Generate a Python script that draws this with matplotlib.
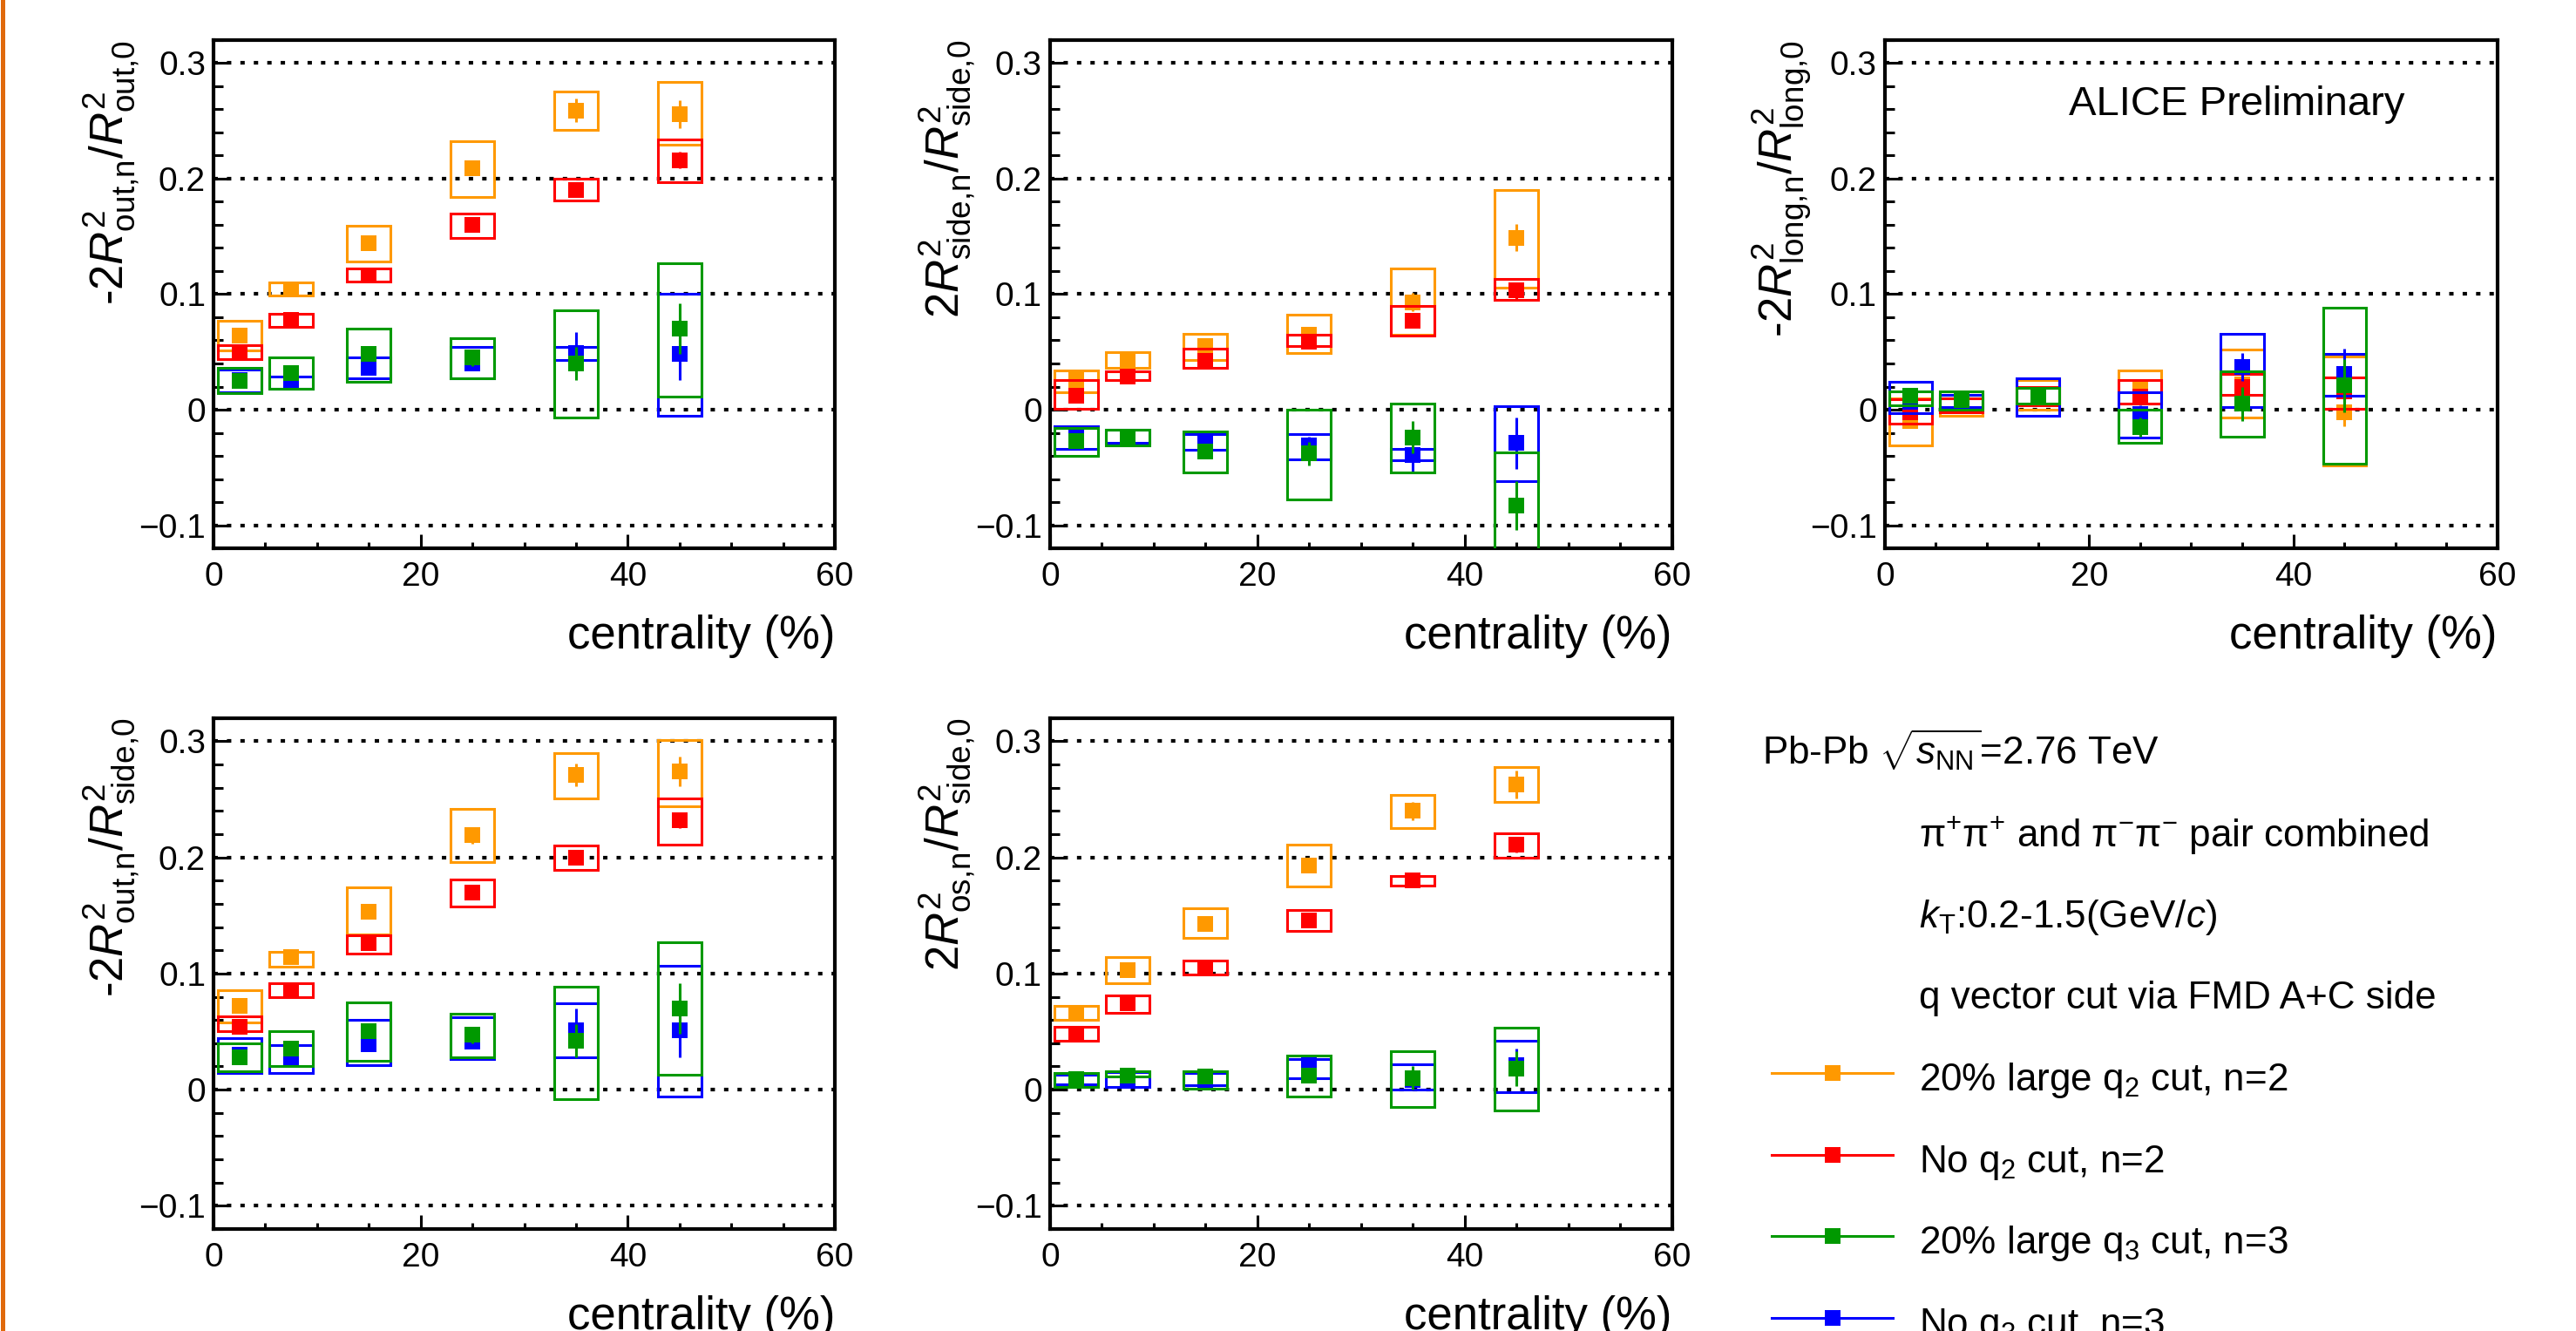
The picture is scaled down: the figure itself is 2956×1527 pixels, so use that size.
import numpy as np
import matplotlib
matplotlib.use("Agg")
import matplotlib.pyplot as plt
from matplotlib.lines import Line2D
from matplotlib.ticker import MultipleLocator, FuncFormatter

plt.rcParams["font.family"] = ["Liberation Sans", "DejaVu Sans"]
plt.rcParams["mathtext.fontset"] = "custom"
plt.rcParams["mathtext.rm"] = "Liberation Sans"
plt.rcParams["mathtext.it"] = "Liberation Sans:italic"
plt.rcParams["mathtext.bf"] = "Liberation Sans:bold"

# centrality bin centres (%)
centrality = [2.5, 7.5, 15, 25, 35, 45]

series_labels = [
    "20% large q$_{2}$ cut, n=2",
    "No q$_{2}$ cut, n=2",
    "20% large q$_{3}$ cut, n=3",
    "No q$_{3}$ cut, n=3",
]
series_colors = ["#ff9900", "#ff0000", "#009900", "#0000ff"]

# rows: q2 cut n=2, no q2 cut n=2, q3 cut n=3, no q3 cut n=3
out_val = [[0.064, 0.104, 0.144, 0.209, 0.259, 0.256],
           [0.049, 0.078, 0.116, 0.160, 0.190, 0.216],
           [0.025, 0.032, 0.048, 0.045, 0.040, 0.070],
           [0.026, 0.024, 0.036, 0.040, 0.049, 0.048]]
out_stat = [[0.005, 0.004, 0.005, 0.006, 0.010, 0.012],
            [0.004, 0.004, 0.005, 0.005, 0.006, 0.007],
            [0.004, 0.005, 0.006, 0.007, 0.014, 0.022],
            [0.004, 0.005, 0.006, 0.006, 0.018, 0.022]]
out_lo = [[0.051, 0.099, 0.128, 0.184, 0.242, 0.229],
          [0.044, 0.072, 0.111, 0.149, 0.181, 0.197],
          [0.014, 0.018, 0.024, 0.027, -0.007, 0.011],
          [0.015, 0.018, 0.027, 0.027, 0.043, -0.005]]
out_hi = [[0.077, 0.110, 0.159, 0.232, 0.275, 0.284],
          [0.056, 0.083, 0.122, 0.170, 0.200, 0.234],
          [0.036, 0.045, 0.070, 0.062, 0.086, 0.127],
          [0.035, 0.029, 0.045, 0.054, 0.054, 0.100]]

side_val = [[0.026, 0.042, 0.055, 0.065, 0.093, 0.149],
            [0.012, 0.029, 0.042, 0.059, 0.077, 0.103],
            [-0.027, -0.023, -0.036, -0.038, -0.024, -0.083],
            [-0.022, -0.023, -0.026, -0.031, -0.039, -0.029]]
side_stat = [[0.005, 0.005, 0.005, 0.006, 0.008, 0.012],
             [0.004, 0.004, 0.005, 0.005, 0.006, 0.007],
             [0.005, 0.004, 0.006, 0.010, 0.014, 0.021],
             [0.005, 0.004, 0.006, 0.008, 0.015, 0.022]]
side_lo = [[0.015, 0.036, 0.043, 0.049, 0.065, 0.106],
           [0.001, 0.026, 0.036, 0.055, 0.064, 0.095],
           [-0.040, -0.031, -0.054, -0.078, -0.054, -0.125],
           [-0.034, -0.029, -0.035, -0.043, -0.044, -0.062]]
side_hi = [[0.034, 0.050, 0.066, 0.082, 0.122, 0.190],
           [0.026, 0.033, 0.053, 0.065, 0.090, 0.113],
           [-0.016, -0.017, -0.019, 0.000, 0.005, -0.037],
           [-0.014, -0.017, -0.021, -0.021, -0.034, 0.003]]

long_val = [[-0.010, 0.004, 0.013, 0.020, 0.022, -0.002],
            [-0.002, 0.006, 0.013, 0.011, 0.020, 0.016],
            [0.012, 0.008, 0.013, -0.015, 0.005, 0.021],
            [0.007, 0.007, 0.013, -0.004, 0.037, 0.031]]
long_stat = [[0.006, 0.005, 0.005, 0.006, 0.011, 0.012],
             [0.005, 0.004, 0.005, 0.006, 0.008, 0.010],
             [0.005, 0.004, 0.005, 0.008, 0.015, 0.023],
             [0.005, 0.004, 0.005, 0.008, 0.012, 0.022]]
long_lo = [[-0.031, -0.005, 0.000, 0.005, -0.007, -0.048],
           [-0.012, -0.002, 0.004, 0.005, 0.013, 0.001],
           [0.004, 0.000, 0.005, -0.029, -0.023, -0.047],
           [-0.003, 0.002, -0.005, -0.024, 0.002, 0.012]]
long_hi = [[0.010, 0.016, 0.026, 0.034, 0.052, 0.046],
           [0.009, 0.010, 0.020, 0.026, 0.031, 0.028],
           [0.016, 0.016, 0.019, 0.000, 0.033, 0.088],
           [0.024, 0.013, 0.027, 0.015, 0.066, 0.048]]

outside_val = [[0.072, 0.114, 0.153, 0.219, 0.271, 0.274],
               [0.054, 0.086, 0.126, 0.170, 0.200, 0.232],
               [0.028, 0.035, 0.050, 0.047, 0.042, 0.070],
               [0.030, 0.026, 0.039, 0.041, 0.051, 0.051]]
outside_stat = [[0.005, 0.005, 0.005, 0.007, 0.010, 0.013],
                [0.004, 0.004, 0.005, 0.005, 0.006, 0.007],
                [0.004, 0.005, 0.006, 0.007, 0.014, 0.022],
                [0.004, 0.005, 0.006, 0.006, 0.019, 0.023]]
outside_lo = [[0.058, 0.106, 0.134, 0.196, 0.251, 0.244],
              [0.050, 0.080, 0.117, 0.158, 0.189, 0.211],
              [0.016, 0.020, 0.025, 0.028, -0.008, 0.013],
              [0.014, 0.014, 0.021, 0.026, 0.028, -0.006]]
outside_hi = [[0.086, 0.119, 0.174, 0.242, 0.290, 0.301],
              [0.063, 0.092, 0.133, 0.181, 0.210, 0.251],
              [0.040, 0.050, 0.075, 0.065, 0.089, 0.127],
              [0.044, 0.038, 0.060, 0.062, 0.074, 0.107]]

os_val = [[0.066, 0.103, 0.143, 0.193, 0.240, 0.263],
          [0.048, 0.074, 0.105, 0.146, 0.180, 0.211],
          [0.009, 0.012, 0.011, 0.012, 0.010, 0.018],
          [0.009, 0.008, 0.006, 0.021, 0.008, 0.021]]
os_stat = [[0.004, 0.005, 0.005, 0.006, 0.008, 0.012],
           [0.004, 0.004, 0.004, 0.005, 0.006, 0.007],
           [0.004, 0.004, 0.004, 0.006, 0.010, 0.015],
           [0.004, 0.004, 0.004, 0.006, 0.009, 0.014]]
os_lo = [[0.060, 0.092, 0.131, 0.175, 0.225, 0.248],
         [0.042, 0.066, 0.099, 0.137, 0.176, 0.200],
         [0.002, 0.011, 0.001, -0.006, -0.015, -0.018],
         [0.0045, 0.002, 0.004, 0.010, 0.000, -0.002]]
os_hi = [[0.072, 0.114, 0.156, 0.211, 0.254, 0.278],
         [0.054, 0.081, 0.111, 0.155, 0.184, 0.221],
         [0.014, 0.016, 0.016, 0.029, 0.033, 0.053],
         [0.0125, 0.015, 0.014, 0.026, 0.022, 0.042]]

info_lines = [
    "π$^{+}$π$^{+}$ and π$^{-}$π$^{-}$ pair combined",
    "$k_{\\rm T}$:0.2-1.5(GeV/$c$)",
    "q vector cut via FMD A+C side",
]

W, H = 2956, 1527
fig = plt.figure(figsize=(W / 100, H / 100), dpi=100)

# left border strip
fig.add_artist(Line2D([2.5 / W, 2.5 / W], [0, 1], transform=fig.transFigure,
                      color="#e0690c", lw=3.6))


def fmt_y(v, pos):
    if abs(v) < 1e-9:
        return "0"
    return f"{v:.1f}".replace("-", "\u2212")


def draw_panel(rect, val, stat, lo, hi, ylabel):
    ax = fig.add_axes(rect)
    ax.set_xlim(0, 60)
    ax.set_ylim(-0.12, 0.32)
    # draw order: orange, red, blue, green
    for z, i in enumerate([0, 1, 3, 2]):
        c = series_colors[i]
        lo_i = np.array(lo[i])
        hi_i = np.array(hi[i])
        ax.bar(centrality, hi_i - lo_i, bottom=lo_i, width=4.2, fill=False,
               edgecolor=c, linewidth=2.2, zorder=3 + 2 * z)
        ax.errorbar(centrality, val[i], yerr=stat[i], fmt="s", color=c, ms=13.5,
                    mew=0, elinewidth=2.2, capsize=4.5, capthick=3, zorder=4 + 2 * z)

    ax.xaxis.set_major_locator(MultipleLocator(20))
    ax.xaxis.set_minor_locator(MultipleLocator(5))
    ax.yaxis.set_major_locator(MultipleLocator(0.1))
    ax.yaxis.set_minor_locator(MultipleLocator(0.02))
    ax.yaxis.set_major_formatter(FuncFormatter(fmt_y))
    ax.xaxis.set_major_formatter(FuncFormatter(lambda v, p: f"{v:g}"))
    ax.tick_params(which="both", direction="in", top=False, right=False, width=2.2,
                   labelsize=28)
    ax.tick_params(axis="x", which="major", length=11.5, pad=11)
    ax.tick_params(axis="x", which="minor", length=5)
    ax.tick_params(axis="y", which="major", length=11.5, pad=6.5)
    ax.tick_params(axis="y", which="minor", length=8)
    for s in ax.spines.values():
        s.set_linewidth(3)
    ax.yaxis.grid(True, which="major", color="black", lw=3, linestyle=(0, (1.2, 2.5)))
    ax.set_axisbelow(True)

    ax.set_xlabel("centrality (%)", fontsize=38, loc="right")
    ax.xaxis.set_label_coords(1.0, -0.13)
    ax.set_ylabel(ylabel, fontsize=38, loc="top")
    ax.yaxis.set_label_coords(-0.117, 1.0)
    return ax


top_y, top_h = 0.588, 0.382
bot_y, bot_h = 0.0766, 0.384

draw_panel([0.0829, top_y, 0.2412, top_h], out_val, out_stat, out_lo, out_hi,
           r"-2$R^{2}_{\rm out{,}n}/R^{2}_{\rm out{,}0}$")
draw_panel([0.4076, top_y, 0.2415, top_h], side_val, side_stat, side_lo, side_hi,
           r"2$R^{2}_{\rm side{,}n}/R^{2}_{\rm side{,}0}$")
ax3 = draw_panel([0.7317, top_y, 0.2378, top_h], long_val, long_stat, long_lo, long_hi,
                 r"-2$R^{2}_{\rm long{,}n}/R^{2}_{\rm long{,}0}$")
ax3.text(0.30, 0.873, "ALICE Preliminary", transform=ax3.transAxes, fontsize=34,
         va="center", ha="left")
draw_panel([0.0829, bot_y, 0.2412, bot_h], outside_val, outside_stat, outside_lo, outside_hi,
           r"-2$R^{2}_{\rm out{,}n}/R^{2}_{\rm side{,}0}$")
draw_panel([0.4076, bot_y, 0.2415, bot_h], os_val, os_stat, os_lo, os_hi,
           r"2$R^{2}_{\rm os{,}n}/R^{2}_{\rm side{,}0}$")

# legend block (bottom right)
row0, step = 877, 93.5
text_x = 2202 / W
fig.text(2022 / W, 1 - row0 / H, r"Pb-Pb $\sqrt{s_{\rm NN}}$=2.76 TeV", fontsize=31.7,
         va="baseline", ha="left")
for k, line in enumerate(info_lines):
    fig.text(text_x, 1 - (row0 + step * (k + 1)) / H, line, fontsize=31.7,
             va="baseline", ha="left")
for k, (lab, c) in enumerate(zip(series_labels, series_colors)):
    base = row0 + step * (k + 4)
    yl = 1 - (base - 20) / H
    fig.add_artist(Line2D([2033 / W, 2172 / W], [yl, yl], transform=fig.transFigure,
                          color=c, lw=2.2))
    fig.add_artist(Line2D([2103 / W], [yl], transform=fig.transFigure, color=c,
                          marker="s", ms=13.5, mew=0, ls="none"))
    fig.text(text_x, 1 - base / H, lab, fontsize=31.7, va="baseline", ha="left")

fig.savefig("out.png", dpi=100)
